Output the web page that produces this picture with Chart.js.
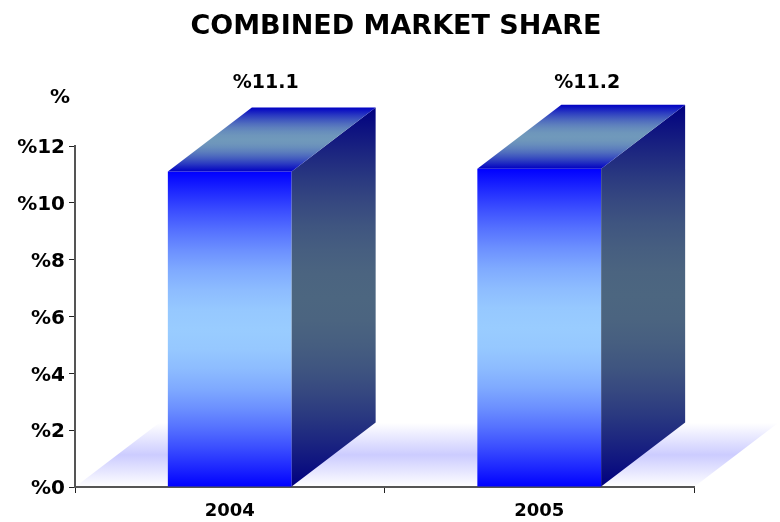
<!DOCTYPE html>
<html lang="en">
<head>
    <meta charset="UTF-8">
    <title>Combined Market Share</title>
    <script src="https://cdn.jsdelivr.net/npm/chart.js"></script>
    <style>
        html, body { margin: 0; padding: 0; background: #fff; }
        canvas { display: block; }
    </style>
</head>
<body>
    <canvas id="grafico" width="780" height="522"></canvas>
    <script>
        var years = ['2004', '2005'];
        var share = [11.1, 11.2];
        var shareLabels = ['%11.1', '%11.2'];
        var yTicks = [0, 2, 4, 6, 8, 10, 12];
        var axisUnit = '%';
        var titleText = 'COMBINED MARKET SHARE';

        var FONT = '"DejaVu Sans", Verdana, sans-serif';
        var DEPTH_X = 84, DEPTH_Y = 64;
        var labelShift = [36, 48];

        // edge -> mid -> edge, eased so the light band is wide and has no hard crease
        function vGrad(ctx, y1, y2, edge, mid) {
            var g = ctx.createLinearGradient(0, y1, 0, y2);
            for (var i = 0; i <= 16; i++) {
                var t = i / 16;
                var k = Math.cos((t - 0.5) * Math.PI);
                var c = edge.map(function(e, n) { return Math.round(e + (mid[n] - e) * k); });
                g.addColorStop(t, 'rgb(' + c.join(',') + ')');
            }
            return g;
        }

        function face(ctx, pts, fill) {
            ctx.beginPath();
            ctx.moveTo(pts[0][0], pts[0][1]);
            for (var i = 1; i < pts.length; i++) ctx.lineTo(pts[i][0], pts[i][1]);
            ctx.closePath();
            ctx.fillStyle = fill;
            ctx.fill();
        }

        var box3d = {
            id: 'box3d',
            afterLayout: function(chart) {
                // title is centred a bit right of the plot, like the original
                chart.titleBlock.left = 12;
                chart.titleBlock.right = 780;
            },
            beforeDraw: function(chart) {
                var ctx = chart.ctx, a = chart.chartArea;
                var b = a.bottom, t = b - DEPTH_Y;
                var floor = ctx.createLinearGradient(0, t, 0, b);
                floor.addColorStop(0, '#ffffff');
                floor.addColorStop(0.5, '#ccccff');
                floor.addColorStop(1, '#ffffff');
                ctx.save();
                face(ctx, [[a.left, b], [a.left + DEPTH_X, t], [a.right + DEPTH_X, t], [a.right, b]], floor);
                ctx.restore();
            },
            afterDatasetsDraw: function(chart) {
                var ctx = chart.ctx;
                var bars = chart.getDatasetMeta(0).data;
                ctx.save();
                bars.forEach(function(bar, i) {
                    var l = bar.x - bar.width / 2, r = bar.x + bar.width / 2;
                    var t = bar.y, b = bar.base;
                    face(ctx, [[r, t], [r + DEPTH_X, t - DEPTH_Y], [r + DEPTH_X, b - DEPTH_Y], [r, b]],
                        vGrad(ctx, t - DEPTH_Y, b, [0, 0, 128], [76, 102, 128]));
                    face(ctx, [[l, t], [l + DEPTH_X, t - DEPTH_Y], [r + DEPTH_X, t - DEPTH_Y], [r, t]],
                        vGrad(ctx, t - DEPTH_Y, t, [0, 0, 196], [112, 153, 187]));

                    ctx.fillStyle = '#000';
                    ctx.font = 'bold 19px ' + FONT;
                    ctx.textAlign = 'center';
                    ctx.textBaseline = 'middle';
                    ctx.fillText(shareLabels[i], bar.x + labelShift[i], 83);
                });
                ctx.font = 'bold 20px ' + FONT;
                ctx.fillText(axisUnit, 60, 98);
                ctx.restore();
            }
        };

        new Chart(document.getElementById('grafico').getContext('2d'), {
            type: 'bar',
            data: {
                labels: years,
                datasets: [{
                    data: share,
                    barPercentage: 1,
                    categoryPercentage: 0.4,
                    borderWidth: 0,
                    backgroundColor: function(c) {
                        if (!c.chart.chartArea || c.parsed === undefined) return '#0000ff';
                        var y = c.chart.scales.y;
                        return vGrad(c.chart.ctx, y.getPixelForValue(c.parsed.y), y.getPixelForValue(0), [0, 0, 255], [153, 204, 255]);
                    }
                }]
            },
            options: {
                responsive: false,
                animation: false,
                layout: { padding: { right: 86 } },
                plugins: {
                    legend: { display: false },
                    tooltip: { enabled: false },
                    title: {
                        display: true,
                        text: titleText,
                        color: '#000',
                        font: { family: FONT, size: 27, weight: 'bold', lineHeight: 1.2 },
                        padding: { top: 10.4, bottom: 103.2 }
                    }
                },
                scales: {
                    x: {
                        afterFit: function(s) { s.height = 35; },
                        grid: { drawOnChartArea: false, color: '#222', tickLength: 6, tickWidth: 1 },
                        border: { color: '#555', width: 2 },
                        ticks: { color: '#000', padding: 8, maxRotation: 0, font: { family: FONT, size: 18, weight: 'bold' } }
                    },
                    y: {
                        min: 0,
                        max: 12,
                        afterFit: function(s) { s.width = 75; },
                        afterBuildTicks: function(s) {
                            s.ticks = yTicks.map(function(v) { return { value: v }; });
                        },
                        grid: { drawOnChartArea: false, color: '#222', tickLength: 6, tickWidth: 1 },
                        border: { color: '#555', width: 2 },
                        ticks: {
                            color: '#000',
                            padding: 4,
                            labelOffset: 2,
                            font: { family: FONT, size: 20, weight: 'bold' },
                            callback: function(v) { return '%' + v; }
                        }
                    }
                }
            },
            plugins: [box3d]
        });
    </script>
</body>
</html>
